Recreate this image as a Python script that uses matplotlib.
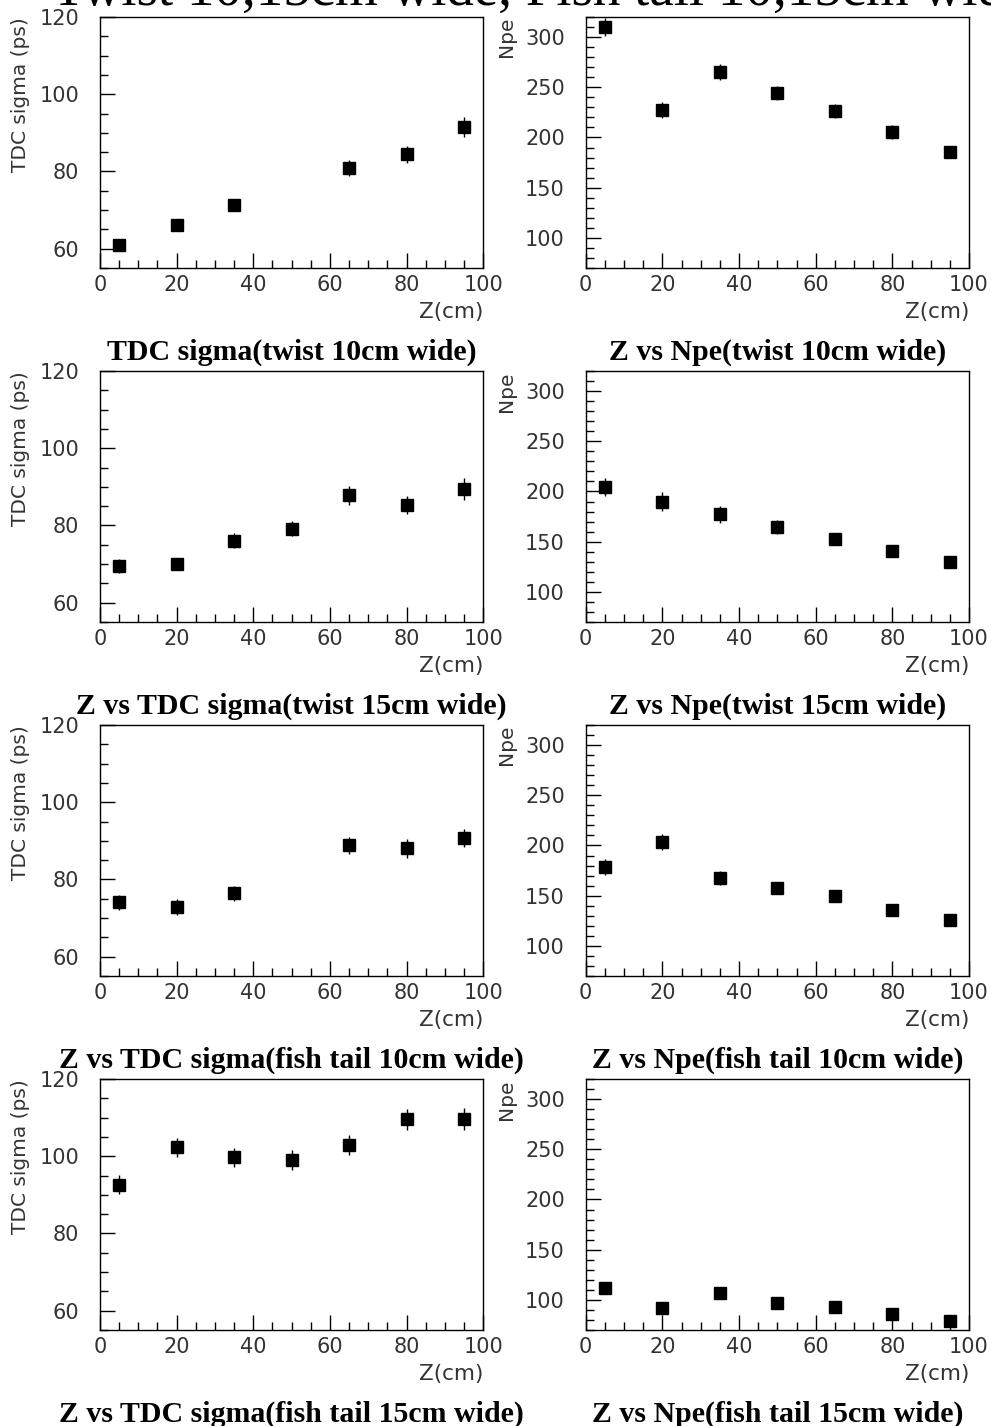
import matplotlib.pyplot as plt
from matplotlib.ticker import MultipleLocator

# z positions (cm)
z_six = [5, 20, 35, 65, 80, 95]
z_seven = [5, 20, 35, 50, 65, 80, 95]

# TDC sigma (ps)
tdc_tw10 = [60.9, 66.1, 71.2, 80.9, 84.4, 91.6]
tdc_tw10_err = [1.3, 1.3, 1.5, 2.0, 2.2, 2.6]
tdc_tw15 = [69.6, 70.0, 76.1, 79.2, 87.8, 85.3, 89.4]
tdc_tw15_err = [1.8, 1.6, 1.9, 2.0, 2.4, 2.4, 2.8]
tdc_ft10 = [74.1, 72.9, 76.4, 88.8, 88.1, 90.7]
tdc_ft10_err = [2.0, 2.0, 2.0, 2.2, 2.5, 2.3]
tdc_ft15 = [92.6, 102.3, 99.7, 99.0, 102.9, 109.6, 109.6]
tdc_ft15_err = [2.5, 2.5, 2.5, 2.5, 2.6, 2.7, 2.8]

# Npe
npe_tw10 = [310.2, 227.2, 265.4, 244.6, 226.2, 205.7, 186.0]
npe_tw10_err = [9, 8, 8, 7, 7, 7, 6]
npe_tw15 = [204.6, 190.0, 177.1, 164.5, 152.6, 140.4, 129.4]
npe_tw15_err = [9, 9, 8, 7, 6, 6, 5]
npe_ft10 = [178.8, 203.3, 167.2, 157.6, 149.3, 136.1, 125.8]
npe_ft10_err = [8, 8, 7, 6, 6, 5, 5]
npe_ft15 = [112.3, 92.1, 107.3, 96.4, 93.0, 86.4, 78.8]
npe_ft15_err = [6, 5, 6, 5, 4, 4, 4]

rows = [
    (z_six, tdc_tw10, tdc_tw10_err, z_seven, npe_tw10, npe_tw10_err,
     "TDC sigma(twist 10cm wide)", "Z vs Npe(twist 10cm wide)"),
    (z_seven, tdc_tw15, tdc_tw15_err, z_seven, npe_tw15, npe_tw15_err,
     "Z vs TDC sigma(twist 15cm wide)", "Z vs Npe(twist 15cm wide)"),
    (z_six, tdc_ft10, tdc_ft10_err, z_seven, npe_ft10, npe_ft10_err,
     "Z vs TDC sigma(fish tail 10cm wide)", "Z vs Npe(fish tail 10cm wide)"),
    (z_seven, tdc_ft15, tdc_ft15_err, z_seven, npe_ft15, npe_ft15_err,
     "Z vs TDC sigma(fish tail 15cm wide)", "Z vs Npe(fish tail 15cm wide)"),
]

W, H = 991, 1426
fig = plt.figure(figsize=(W / 100, H / 100), dpi=100)

tick_font = dict(family='DejaVu Sans', size=15, color='#333333')
title_font = dict(family='Liberation Serif', weight='bold', size=21.5)

# the big title sits mostly above the canvas, as in the original
fig.text(52 / W, 1 - 5 / H, "Twist 10,15cm wide, Fish tail 10,15cm wide",
         family='Liberation Serif', fontsize=39.5, ha='left', va='baseline')

left_x = [100, 585.7]
ax_w = 383.3
ax_h = 251
tops = [17, 371, 725, 1079]


def style(ax, ylim, ymaj, ymin, ylabel):
    ax.set_xlim(0, 100)
    ax.set_ylim(*ylim)
    ax.xaxis.set_major_locator(MultipleLocator(20))
    ax.xaxis.set_minor_locator(MultipleLocator(5))
    ax.yaxis.set_major_locator(MultipleLocator(ymaj))
    ax.yaxis.set_minor_locator(MultipleLocator(ymin))
    ax.tick_params(which='both', direction='in', top=False, right=False, width=1)
    ax.tick_params(which='major', length=11)
    ax.tick_params(which='minor', length=6)
    ax.tick_params(axis='x', which='major', pad=5)
    ax.tick_params(axis='y', which='major', pad=15)
    for lab in ax.get_xticklabels() + ax.get_yticklabels():
        lab.set_fontfamily(tick_font['family'])
        lab.set_fontsize(tick_font['size'])
        lab.set_color(tick_font['color'])
    for sp in ax.spines.values():
        sp.set_linewidth(1.0)
    ax.set_ylabel(ylabel, loc='top', fontsize=14.5, color='#333333')
    ax.yaxis.set_label_coords(-0.183, 1.0)
    ax.set_xlabel("Z(cm)", loc='right', fontsize=15.5, color='#333333')
    ax.xaxis.set_label_coords(1.0, -0.135)


for i, (zl, yl, el, zr, yr, er, tl, tr) in enumerate(rows):
    bottom_px = tops[i] + ax_h
    b = 1 - bottom_px / H
    axl = fig.add_axes([left_x[0] / W, b, ax_w / W, ax_h / H])
    axr = fig.add_axes([left_x[1] / W, b, ax_w / W, ax_h / H])

    axl.errorbar(zl, yl, yerr=el, fmt='s', color='k', ms=8, elinewidth=1, capsize=0)
    axr.errorbar(zr, yr, yerr=er, fmt='s', color='k', ms=8, elinewidth=1, capsize=0)

    style(axl, (55, 120), 20, 5, "TDC sigma (ps)")
    style(axr, (70, 320), 50, 10, "Npe")

    ty = 1 - (bottom_px + 92) / H
    fig.text((left_x[0] + ax_w / 2) / W, ty, tl, ha='center', va='baseline', **title_font)
    fig.text((left_x[1] + ax_w / 2) / W, ty, tr, ha='center', va='baseline', **title_font)

fig.savefig("out.png", dpi=100)
